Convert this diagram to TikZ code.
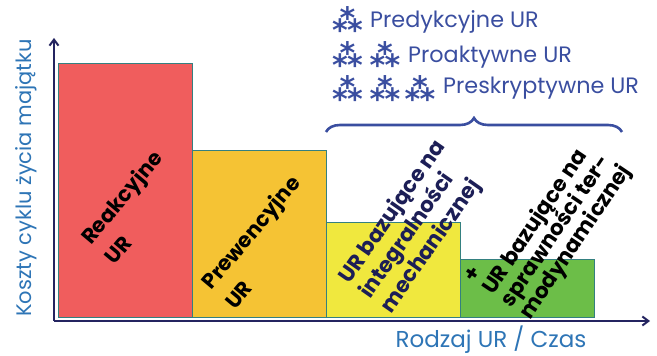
\documentclass[tikz,border=0pt]{standalone}
\usepackage{fontspec}
\setmainfont{Poppins}
\newfontfamily\gwiazdki{DejaVu Sans}
\usetikzlibrary{arrows.meta,decorations.pathreplacing}

\definecolor{czerwony}{RGB}{240,93,93}
\definecolor{pomaranczowy}{RGB}{245,195,52}
\definecolor{zolty}{RGB}{240,232,62}
\definecolor{zielony}{RGB}{108,190,72}
\definecolor{brzeg}{RGB}{52,128,128}
\definecolor{granat}{RGB}{36,36,96}
\definecolor{indygo}{RGB}{58,78,160}
\definecolor{niebieski}{RGB}{46,117,182}
\definecolor{ciemny}{RGB}{28,30,86}

\newcommand{\ciasno}{\setlength{\lineskiplimit}{-30pt}}

\begin{document}
\begin{tikzpicture}[
    x=1pt, y=1pt,
    slupek/.style={draw=brzeg, line width=1.2pt, anchor=south west, inner sep=0pt, minimum width=134pt},
    opis/.style={font=\bfseries\fontsize{21}{31}\selectfont\ciasno, align=left, inner sep=0pt},
    os/.style={-{Straight Barb[length=6pt, width=9pt]}, draw=granat, line width=2pt},
    legenda/.style={font=\fontsize{22.3}{25}\selectfont, text=indygo, anchor=base west, inner sep=0pt},
    gw/.style={font=\gwiazdki\bfseries\fontsize{30}{30}\selectfont, text=indygo, inner sep=0pt},
    klamra/.style={decorate, decoration={brace, amplitude=14pt}, draw=indygo, line width=2.6pt},
    etykieta/.style={font=\fontsize{23}{23}\selectfont, text=niebieski, inner sep=0pt, anchor=base}
]
    \useasboundingbox (0,0) rectangle (657,356);

    % 1. Slupki kosztow
    \node[slupek, fill=czerwony,     minimum height=254pt] (reakc) at (58,38)  {};
    \node[slupek, fill=pomaranczowy, minimum height=167pt] (prew)  at (192,38) {};
    \node[slupek, fill=zolty,        minimum height=95pt]  (integ) at (326,38) {};
    \node[slupek, fill=zielony,      minimum height=58pt]  (spraw) at (460,38) {};

    % 2. Osie
    \coordinate (O) at (54,35);
    \coordinate (Ygora) at (54,318);
    \coordinate (Xkon) at (650,35);
    \draw[os] (O) -- (Ygora);
    \draw[os] (O) -- (Xkon);

    % opisy osi
    \node[etykieta, font=\fontsize{21}{21}\selectfont, rotate=90] (osY) at (31,178) {Koszty cyklu życia majątku};
    \node[etykieta] (osX) at (491,8) {Rodzaj UR / Czas};

    % 3. Opisy slupkow
    \node[opis, rotate=50] (tReakc) at (133,149) {Reakcyjne\\UR};
    \node[opis, rotate=50] (tPrew)  at (262,114) {Prewencyjne\\UR};
    \node[opis, rotate=55, text=ciemny, font=\bfseries\fontsize{21.5}{25.5}\selectfont\ciasno] (tInteg) at (414,129)
        {UR bazujące na\\integralności\\mechanicznej};
    \node[opis, rotate=56, font=\bfseries\fontsize{21.5}{22.5}\selectfont\ciasno] (tSpraw) at (550,131)
        {+\\UR bazujące na\\sprawności ter-\\modynamicznej};

    % 4. Klamra i legenda
    \coordinate (K1) at (326,224);
    \coordinate (K2) at (622,224);
    \draw[klamra] (K1) -- (K2);

    \node[gw] (g11) at (347.5,336) {⁂};
    \node[legenda] (l1) at (370,328) {Predykcyjne UR};

    \node[gw] (g21) at (347.5,301) {⁂};
    \node[gw] (g22) at (385,301)   {⁂};
    \node[legenda] (l2) at (408,293) {Proaktywne UR};

    \node[gw] (g31) at (347.5,267) {⁂};
    \node[gw] (g32) at (385,267)   {⁂};
    \node[gw] (g33) at (420,267)   {⁂};
    \node[legenda] (l3) at (443,262) {Preskryptywne UR};

\end{tikzpicture}
\end{document}
